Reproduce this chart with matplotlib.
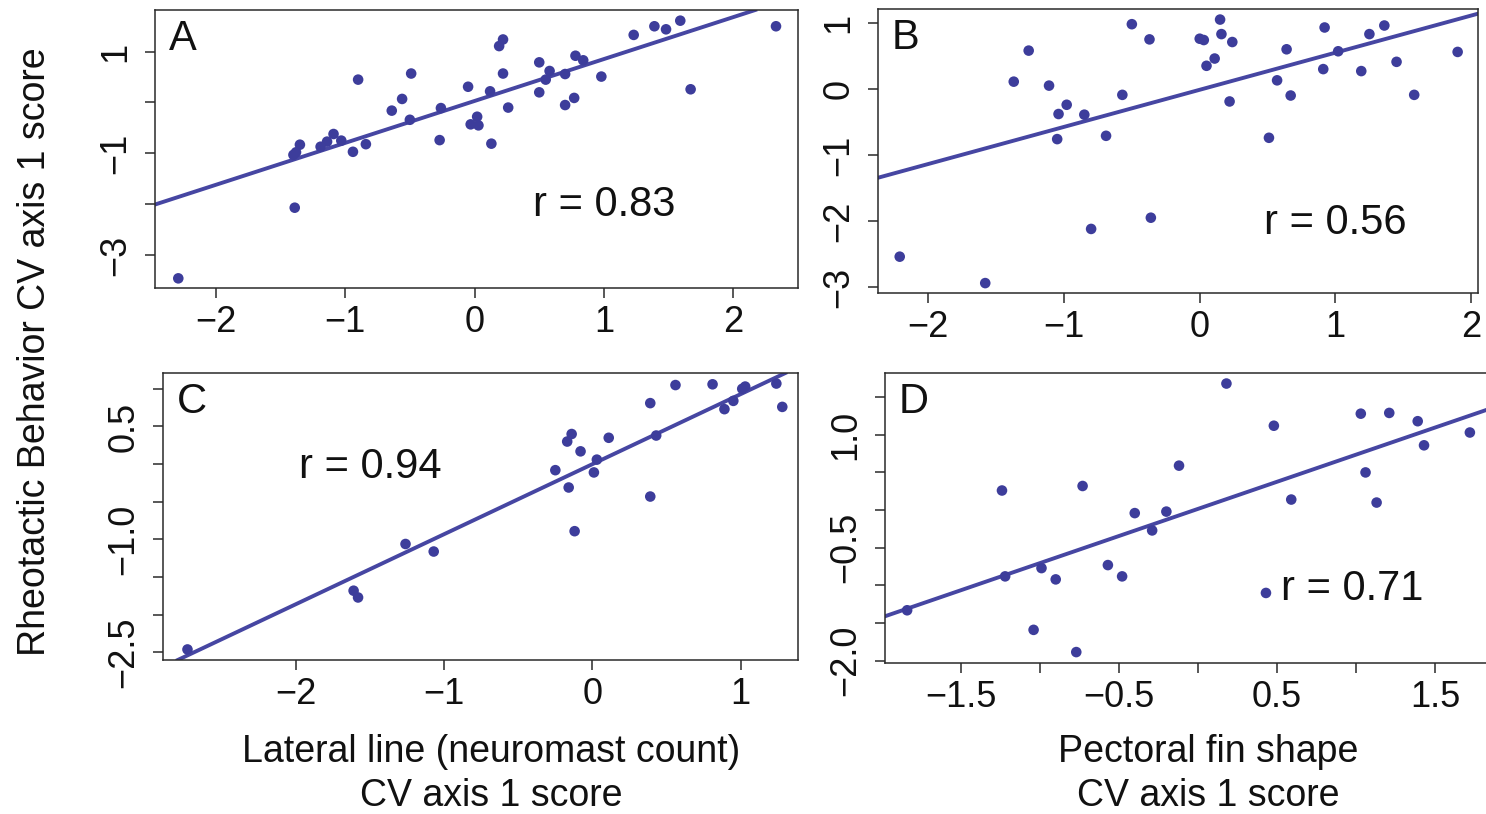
import matplotlib
matplotlib.use("Agg")
import matplotlib.pyplot as plt

plt.rcParams['font.family'] = ['Liberation Sans', 'DejaVu Sans']

# ---------------- data ----------------
a_x = [-2.29, -1.39, -1.40, -1.38, -1.35, -1.19, -1.14, -1.09, -1.03, -0.94, -0.84, -0.90,
       -0.64, -0.56, -0.50, -0.49, -0.27, -0.26, -0.05, -0.03, 0.02, 0.03, 0.12, 0.13,
       0.19, 0.22, 0.22, 0.26, 0.50, 0.50, 0.55, 0.58, 0.70, 0.70, 0.77, 0.78, 0.84,
       0.98, 1.23, 1.39, 1.48, 1.59, 1.67, 2.33]
a_y = [-3.46, -2.07, -1.03, -0.98, -0.83, -0.87, -0.77, -0.62, -0.75, -0.97, -0.82, 0.45,
       -0.16, 0.07, -0.34, 0.57, -0.74, -0.11, 0.31, -0.43, -0.28, -0.45, 0.22, -0.81,
       1.11, 1.24, 0.57, -0.10, 0.79, 0.20, 0.45, 0.62, 0.56, -0.05, 0.09, 0.92, 0.83,
       0.51, 1.33, 1.50, 1.44, 1.61, 0.26, 1.50]
a_fit = (0.825, 0.03)      # slope, intercept
a_r = "r = 0.83"

b_x = [-2.21, -1.58, -1.37, -1.26, -1.11, -1.04, -0.98, -1.05, -0.85, -0.80, -0.69, -0.57,
       -0.50, -0.37, -0.36, 0.00, 0.03, 0.05, 0.11, 0.15, 0.16, 0.24, 0.22, 0.51, 0.57,
       0.64, 0.67, 0.91, 0.92, 1.02, 1.19, 1.25, 1.36, 1.45, 1.58, 1.90]
b_y = [-2.54, -2.94, 0.11, 0.58, 0.05, -0.38, -0.24, -0.76, -0.39, -2.12, -0.71, -0.09,
       0.98, 0.75, -1.95, 0.76, 0.74, 0.35, 0.46, 1.05, 0.83, 0.71, -0.19, -0.74, 0.13,
       0.60, -0.10, 0.30, 0.93, 0.57, 0.27, 0.83, 0.96, 0.41, -0.09, 0.56]
b_fit = (0.562, -0.013)
b_r = "r = 0.56"

c_x = [-2.73, -1.61, -1.58, -1.26, -1.07, -0.25, -0.17, -0.14, -0.16, -0.12, -0.08, 0.01,
       0.03, 0.11, 0.39, 0.39, 0.43, 0.56, 0.81, 0.89, 0.95, 1.01, 1.03, 1.24, 1.28]
c_y = [-2.46, -1.68, -1.77, -1.06, -1.16, -0.08, 0.30, 0.40, -0.31, -0.89, 0.17, -0.11,
       0.06, 0.35, -0.43, 0.81, 0.38, 1.05, 1.06, 0.73, 0.84, 1.00, 1.03, 1.07, 0.76]
c_fit = (0.93, 0.0)
c_r = "r = 0.94"

d_x = [-1.84, -1.24, -1.22, -1.04, -0.99, -0.90, -0.77, -0.73, -0.57, -0.48, -0.40, -0.29,
       -0.20, -0.12, 0.18, 0.43, 0.48, 0.59, 1.03, 1.06, 1.13, 1.21, 1.39, 1.43, 1.72]
d_y = [-1.33, 0.26, -0.88, -1.59, -0.77, -0.92, -1.885, 0.32, -0.73, -0.88, -0.04, -0.27,
       -0.02, 0.59, 1.68, -1.10, 1.12, 0.14, 1.28, 0.50, 0.10, 1.29, 1.18, 0.86, 1.03]
d_fit = (0.72, 0.016)
d_r = "r = 0.71"

M = "\u2212"
a_xticks = [-2, -1, 0, 1, 2]
a_xlabels = [M + "2", M + "1", "0", "1", "2"]
a_yticks = [-3, -2, -1, 0, 1]
a_ylabels = [M + "3", "", M + "1", "", "1"]

b_xticks = [-2, -1, 0, 1, 2]
b_xlabels = [M + "2", M + "1", "0", "1", "2"]
b_yticks = [-3, -2, -1, 0, 1]
b_ylabels = [M + "3", M + "2", M + "1", "0", "1"]

c_xticks = [-2, -1, 0, 1]
c_xlabels = [M + "2", M + "1", "0", "1"]
c_yticks = [-2.5, -2.0, -1.5, -1.0, -0.5, 0.0, 0.5, 1.0]
c_ylabels = [M + "2.5", "", "", M + "1.0", "", "", "0.5", ""]

d_xticks = [-1.5, -1.0, -0.5, 0.0, 0.5, 1.0, 1.5]
d_xlabels = [M + "1.5", "", M + "0.5", "", "0.5", "", "1.5"]
d_yticks = [-2.0, -1.5, -1.0, -0.5, 0.0, 0.5, 1.0, 1.5]
d_ylabels = [M + "2.0", "", "", M + "0.5", "", "", "1.0", ""]

ylabel_text = "Rheotactic Behavior CV axis 1 score"
xlabel_left = ["Lateral line (neuromast count)", "CV axis 1 score"]
xlabel_right = ["Pectoral fin shape", "CV axis 1 score"]

# ---------------- style / layout ----------------
W, H = 1486, 814
fig = plt.figure(figsize=(W / 100, H / 100), dpi=100)
fig.patch.set_facecolor("white")

DOT = "#3d3d9b"
LINE = "#4646a2"
DARK = "#2a2a2a"
FS_TICK = 26
FS_LAB = 27
FS_R = 30
FS_LET = 30


def rect(l, r, t, b):
    return [l / W, 1 - b / H, (r - l) / W, (b - t) / H]


panels = [
    dict(r=rect(155, 798, 10, 288), x=a_x, y=a_y, fit=a_fit, rt=a_r, let="A",
         xlim=(-2.47, 2.50), ylim=(-3.65, 1.82), xt=a_xticks, xl=a_xlabels,
         yt=a_yticks, yl=a_ylabels, rpos=(1.0, -2.24)),
    dict(r=rect(878, 1478, 9, 293), x=b_x, y=b_y, fit=b_fit, rt=b_r, let="B",
         xlim=(-2.37, 2.05), ylim=(-3.09, 1.21), xt=b_xticks, xl=b_xlabels,
         yt=b_yticks, yl=b_ylabels, rpos=(1.0, -2.20)),
    dict(r=rect(163, 798, 373, 660), x=c_x, y=c_y, fit=c_fit, rt=c_r, let="C",
         xlim=(-2.895, 1.386), ylim=(-2.60, 1.21), xt=c_xticks, xl=c_xlabels,
         yt=c_yticks, yl=c_ylabels, rpos=(-1.50, -0.19)),
    dict(r=rect(885, 1492, 373, 663), x=d_x, y=d_y, fit=d_fit, rt=d_r, let="D",
         xlim=(-1.98, 1.86), ylim=(-2.03, 1.82), xt=d_xticks, xl=d_xlabels,
         yt=d_yticks, yl=d_ylabels, rpos=(0.975, -1.20)),
]

for p in panels:
    ax = fig.add_axes(p["r"])
    ax.set_xlim(*p["xlim"])
    ax.set_ylim(*p["ylim"])
    ax.scatter(p["x"], p["y"], s=58, color=DOT, edgecolors="none", zorder=3)
    m, b0 = p["fit"]
    ax.axline((0, b0), slope=m, color=LINE, lw=2.8, zorder=2)
    ax.set_xticks(p["xt"])
    ax.set_xticklabels(p["xl"])
    ax.set_yticks(p["yt"])
    ax.set_yticklabels(p["yl"], rotation=90, va="center")
    ax.tick_params(axis="both", direction="out", length=7.5, width=1.1,
                   color=DARK, labelcolor="#111111", labelsize=FS_TICK)
    ax.tick_params(axis="x", pad=5)
    ax.tick_params(axis="y", pad=8)
    for s in ax.spines.values():
        s.set_color(DARK)
        s.set_linewidth(1.1)
    ax.text(p["rpos"][0], p["rpos"][1], p["rt"], ha="center", va="baseline",
            fontsize=FS_R, color="#111111")
    ax.annotate(p["let"], xy=(0, 1), xycoords="axes fraction",
                xytext=(14, -9), textcoords="offset pixels",
                ha="left", va="top", fontsize=FS_LET, color="#111111")

# axis titles
fig.text(45 / W, 1 - 352 / H, ylabel_text, rotation=90, rotation_mode="anchor",
         ha="center", va="baseline", fontsize=FS_LAB, color="#111111")
fig.text(491 / W, 1 - 762 / H, xlabel_left[0], ha="center", va="baseline",
         fontsize=FS_LAB, color="#111111")
fig.text(491 / W, 1 - 806 / H, xlabel_left[1], ha="center", va="baseline",
         fontsize=FS_LAB, color="#111111")
fig.text(1208 / W, 1 - 762 / H, xlabel_right[0], ha="center", va="baseline",
         fontsize=FS_LAB, color="#111111")
fig.text(1208 / W, 1 - 806 / H, xlabel_right[1], ha="center", va="baseline",
         fontsize=FS_LAB, color="#111111")

fig.savefig("out.png", dpi=100, facecolor="white")
